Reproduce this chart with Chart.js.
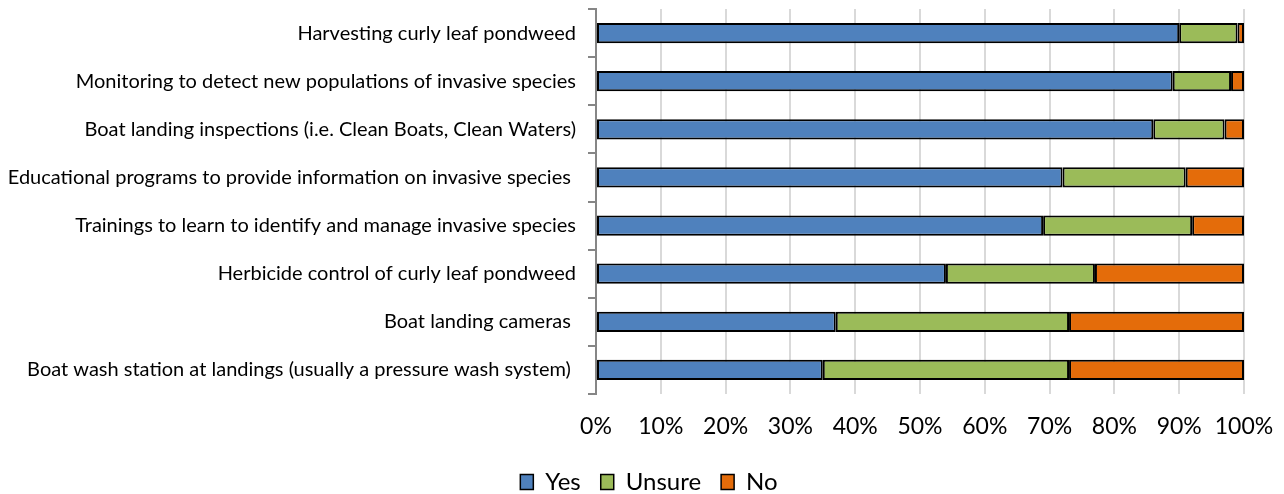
<!DOCTYPE html>
<html>
<head>
<meta charset="utf-8">
<script src="https://cdn.jsdelivr.net/npm/chart.js@4"></script>
<style>
	html, body { margin: 0; padding: 0; background: #fff; }
	#wrap { width: 1284px; height: 494px; position: relative; }
</style>
</head>
<body>
<div id="wrap"><canvas id="chart"></canvas></div>
<script>
const categories = [
	'Harvesting curly leaf pondweed',
	'Monitoring to detect new populations of invasive species',
	'Boat landing inspections (i.e. Clean Boats, Clean Waters)',
	'Educational programs to provide information on invasive species ',
	'Trainings to learn to identify and manage invasive species',
	'Herbicide control of curly leaf pondweed',
	'Boat landing cameras ',
	'Boat wash station at landings (usually a pressure wash system) '
];
const yesValues = [90, 89, 86, 72, 69, 54, 37, 35];
const unsureValues = [9, 9, 11, 19, 23, 23, 36, 38];
const noValues = [1, 2, 3, 9, 8, 23, 27, 27];
const xTicks = [0, 10, 20, 30, 40, 50, 60, 70, 80, 90, 100];

const FONT = 'Lato';

function bar(label, data, color) {
	return {
		label, data,
		backgroundColor: color,
		borderColor: '#000',
		borderWidth: 2,
		borderSkipped: false,
		barPercentage: 0.42,
		categoryPercentage: 1.0
	};
}

// the legend in the original sits a little right of the canvas centre
const legendShift = {
	id: 'legendShift',
	afterLayout(chart) {
		chart.legend.left += 7;
		chart.legend.right += 7;
	}
};

new Chart(document.getElementById('chart'), {
	type: 'bar',
	data: {
		labels: categories,
		datasets: [
			bar('Yes', yesValues, '#4F81BD'),
			bar('Unsure', unsureValues, '#9BBB59'),
			bar('No', noValues, '#E46C0A')
		]
	},
	options: {
		indexAxis: 'y',
		responsive: true,
		maintainAspectRatio: false,
		animation: false,
		layout: { padding: { left: 0, right: 0, top: 9, bottom: -10 } },
		plugins: {
			tooltip: { enabled: false },
			legend: {
				position: 'bottom',
				labels: {
					font: { family: FONT, size: 24 },
					color: '#000',
					boxWidth: 13,
					boxHeight: 15,
					padding: 20,
					generateLabels(chart) {
						return chart.data.datasets.map((ds, i) => ({
							text: ds.label,
							fillStyle: ds.backgroundColor,
							strokeStyle: '#000',
							lineWidth: 1.5,
							datasetIndex: i,
							fontColor: '#000'
						}));
					}
				}
			}
		},
		scales: {
			x: {
				stacked: true,
				min: 0,
				max: 100,
				afterBuildTicks(axis) { axis.ticks = xTicks.map(v => ({ value: v })); },
				ticks: {
					callback: v => v + '%',
					font: { family: FONT, size: 23 },
					color: '#000',
					padding: 19,
					maxRotation: 0
				},
				grid: { color: '#D9D9D9', lineWidth: 2, drawTicks: false },
				border: { display: false },
				afterFit(axis) {
					axis.height = 56;
					axis.paddingLeft = 0;
					axis.paddingRight = 40;
				}
			},
			y: {
				stacked: true,
				ticks: {
					font: { family: FONT, size: 20 },
					color: '#000',
					padding: 12
				},
				grid: {
					offset: true,
					drawOnChartArea: false,
					tickLength: 8,
					color: '#868686',
					lineWidth: 2
				},
				border: { display: true, color: '#868686', width: 2 },
				afterFit(axis) {
					axis.width = 596;
					axis.paddingTop = 0;
					axis.paddingBottom = 0;
				}
			}
		}
	},
	plugins: [legendShift]
});
</script>
</body>
</html>
